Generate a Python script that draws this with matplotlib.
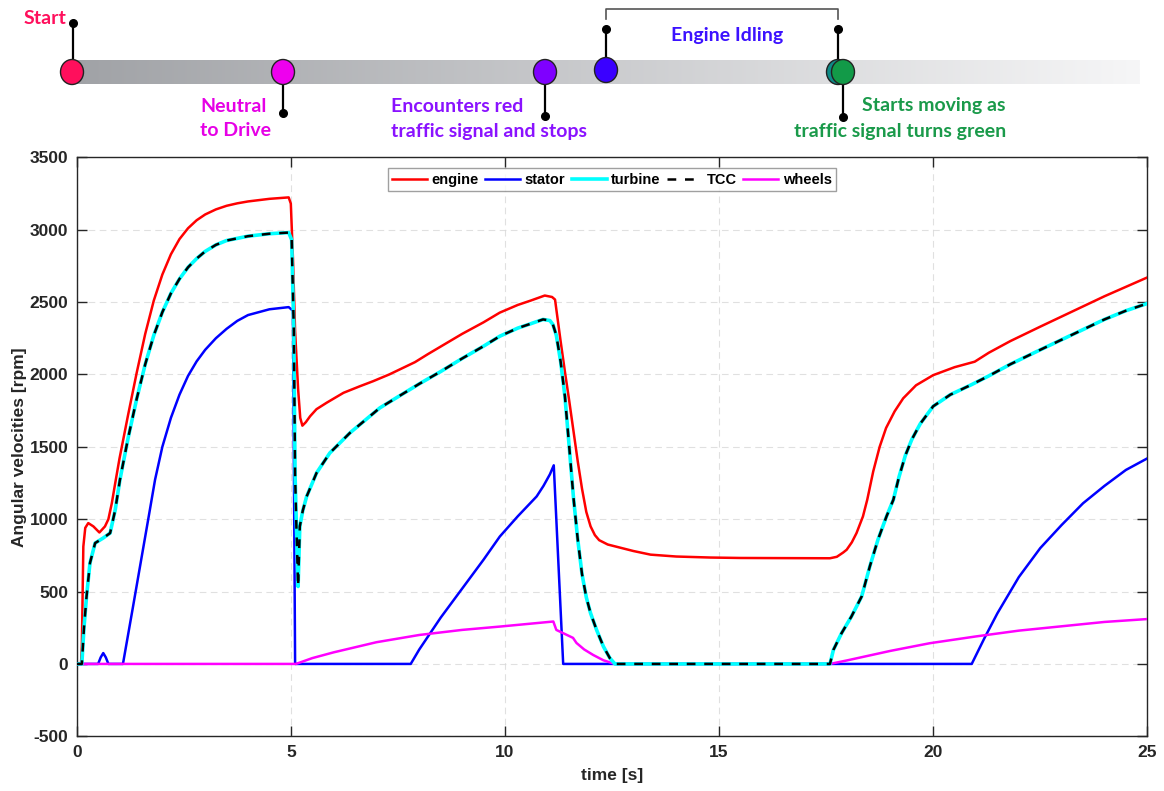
import numpy as np
import matplotlib
matplotlib.use("Agg")
import matplotlib.pyplot as plt
from matplotlib.patches import Ellipse

plt.rcParams["axes.unicode_minus"] = False

# ---------------- data ----------------
engine_t = [0, 0.1, 0.12, 0.155, 0.2, 0.27, 0.39, 0.53, 0.66, 0.74, 0.82, 0.9, 1.0, 1.2, 1.4, 1.6, 1.8, 2.0,
            2.2, 2.4, 2.6, 2.8, 3.0, 3.25, 3.5, 3.75, 4.0, 4.5, 4.95, 5.0, 5.05, 5.1, 5.17, 5.22, 5.27, 5.35,
            5.45, 5.6, 5.84, 6.23, 6.61, 6.92, 7.3, 7.9, 8.2, 8.6, 9.0, 9.5, 9.88, 10.3, 10.6, 10.93, 11.1,
            11.17, 11.2, 11.3, 11.4, 11.5, 11.6, 11.7, 11.8, 11.9, 12.0, 12.1, 12.2, 12.4, 12.6, 13.0, 13.4,
            14.0, 14.8, 15.5, 16.5, 17.59, 17.75, 17.9, 17.98, 18.1, 18.21, 18.36, 18.46, 18.6, 18.75,
            18.9, 19.1, 19.3, 19.6, 20.0, 20.5, 20.97, 21.3, 21.8, 22.5, 23.0, 23.5, 24.0, 24.5, 25.0]
engine_v = [0, 0, 120, 811, 940, 973, 950, 908, 950, 1000, 1110, 1250, 1420, 1720, 2010, 2280, 2510, 2690,
            2830, 2935, 3010, 3065, 3105, 3140, 3165, 3182, 3195, 3213, 3223, 3180, 2800, 2300, 1900, 1700,
            1646, 1670, 1711, 1760, 1805, 1873, 1918, 1953, 2000, 2085, 2140, 2210, 2280, 2360, 2427, 2480,
            2510, 2545, 2535, 2517, 2450, 2230, 2020, 1820, 1610, 1400, 1210, 1050, 950, 890, 855, 825, 810,
            780, 755, 742, 735, 732, 731, 730, 740, 770, 789, 840, 904, 1019, 1134, 1330, 1500, 1630,
            1745, 1835, 1925, 1995, 2050, 2088, 2150, 2230, 2330, 2400, 2470, 2540, 2605, 2670]

turbine_t = [0, 0.12, 0.17, 0.23, 0.31, 0.43, 0.62, 0.78, 0.9, 1.01, 1.2, 1.4, 1.6, 1.8, 2.0, 2.2, 2.4, 2.6,
             2.8, 3.0, 3.25, 3.5, 4.0, 4.5, 4.95, 5.02, 5.07, 5.1, 5.13, 5.17, 5.21, 5.28, 5.37, 5.6, 5.91,
             6.38, 7.08, 7.5, 8.0, 8.5, 9.0, 9.5, 9.88, 10.3, 10.6, 10.89, 11.05, 11.12, 11.2, 11.3, 11.4,
             11.5, 11.6, 11.7, 11.8, 11.9, 12.0, 12.14, 12.3, 12.45, 12.57, 17.59, 17.67, 17.86, 18.09,
             18.33, 18.52, 18.71, 18.91, 19.07, 19.2, 19.35, 19.5, 19.7, 20.0, 20.4, 20.9, 21.3, 21.8, 22.5,
             23.0, 23.5, 24.0, 24.5, 25.0]
turbine_v = [0, 0, 250, 466, 697, 835, 870, 904, 1065, 1273, 1560, 1830, 2070, 2270, 2430, 2560, 2660, 2740,
             2800, 2850, 2895, 2925, 2955, 2972, 2980, 2930, 2300, 1300, 950, 535, 950, 1060, 1157, 1319,
             1457, 1596, 1769, 1845, 1935, 2020, 2110, 2195, 2264, 2320, 2350, 2380, 2372, 2345, 2270, 2090,
             1850, 1503, 1150, 860, 620, 460, 350, 235, 120, 40, 0, 0, 97, 212, 327, 466, 673, 858, 1019,
             1134, 1290, 1440, 1550, 1660, 1780, 1860, 1930, 1990, 2070, 2170, 2240, 2310, 2380, 2440, 2490]

stator_t = [0, 0.5, 0.56, 0.62, 0.68, 0.74, 1.08, 1.3, 1.5, 1.7, 1.83, 2.0, 2.2, 2.4, 2.6, 2.8, 3.0, 3.25,
            3.5, 3.75, 4.0, 4.5, 4.95, 5.05, 5.1, 7.8, 8.0, 8.5, 9.0, 9.5, 9.88, 10.3, 10.74, 10.9, 11.05,
            11.14, 11.36, 20.9, 21.2, 21.5, 22.0, 22.5, 23.0, 23.5, 24.0, 24.5, 25.0]
stator_v = [0, 0, 45, 75, 45, 0, 0, 370, 710, 1050, 1273, 1500, 1700, 1860, 1990, 2090, 2170, 2250,
            2315, 2370, 2410, 2450, 2465, 2440, 0, 0, 100, 320, 520, 720, 880, 1020, 1157, 1230, 1310,
            1372, 0, 0, 180, 350, 600, 800, 960, 1110, 1230, 1340, 1420]

wheels_t = [0, 5.12, 5.5, 6, 7, 8, 9, 9.88, 11.13, 11.2, 11.59, 11.67, 11.85, 12.06, 12.3, 12.57, 17.59,
            18, 19, 19.92, 21, 22, 23, 24, 25]
wheels_v = [0, 0, 40, 80, 150, 200, 235, 258, 293, 235, 180, 145, 100, 62, 25, 0, 0,
            25, 90, 143, 190, 230, 260, 290, 310]

series_names = ["engine", "stator", "turbine", "TCC", "wheels"]
x_ticks = [0, 5, 10, 15, 20, 25]
y_ticks = [-500, 0, 500, 1000, 1500, 2000, 2500, 3000, 3500]

event_labels = ["Start", ["Neutral", "to Drive"], ["Encounters red", "traffic signal and stops"],
                "Engine Idling", ["Starts moving as", "traffic signal turns green"]]

# ---------------- figure ----------------
W, H = 1164, 791
fig = plt.figure(figsize=(W / 100, H / 100), dpi=100)

# timeline overlay (pixel coordinates)
tl = fig.add_axes([0, 0, 1, 1])
tl.set_xlim(0, W)
tl.set_ylim(H, 0)
tl.axis("off")

grad = np.linspace(0, 1, 512)
c0 = np.array([160, 162, 166]) / 255
c1 = np.array([246, 246, 247]) / 255
img = (c0[None, :] * (1 - grad[:, None]) + c1[None, :] * grad[:, None])[None, :, :]
tl.imshow(img, extent=[72, 1140, 84, 60], aspect="auto", zorder=1)

fkw = dict(family=["Lato", "DejaVu Sans"], fontweight="bold", fontsize=14)

def pin(x, y_circle, y_end):
    tl.plot([x, x], [y_circle, y_end], color="black", lw=1.6, zorder=2)
    tl.plot([x], [y_end], "o", color="black", ms=5.5, zorder=3)

def dot(x, y, color):
    tl.add_patch(Ellipse((x, y), 23, 25, facecolor=color, edgecolor="#222222", lw=1.0, zorder=4))

def two_lines(x, lines, color, ha):
    tl.text(x, 106, lines[0], color=color, ha=ha, va="center", **fkw)
    tl.text(x, 131, lines[1], color=color, ha=ha, va="center", **fkw)

c_start, c_neutral, c_enc, c_idle, c_teal, c_green = "#FF0F5C", "#EE00EE", "#7F00FF", "#3A00FF", "#0E8A86", "#129A48"

pin(73, 72, 23)
dot(72, 72, c_start)
tl.text(66, 18, event_labels[0], color=c_start, ha="right", va="center", **fkw)

pin(283, 72, 113)
dot(283, 72, c_neutral)
two_lines(200, event_labels[1], "#E600E6", "left")

pin(545, 72, 116)
dot(545, 72, c_enc)
two_lines(391, event_labels[2], "#8A12FF", "left")

pin(606, 70, 29)
dot(606, 70, c_idle)
tl.text(727, 36, event_labels[3], color="#3C12FF", ha="center", va="center", **fkw)

pin(838, 72, 29)
pin(843, 72, 117)
dot(838, 72, c_teal)
dot(843, 72, c_green)
tl.plot([606, 606, 838, 838], [19, 9, 9, 19], color="#555555", lw=1.2, zorder=2)
two_lines(1006, event_labels[4], "#1A9A4A", "right")

# main axes
ax = fig.add_axes([76.7 / W, 1 - 736.3 / H, (1147.3 - 76.7) / W, (736.3 - 157.3) / H])
ax.plot(engine_t, engine_v, color="#FF0000", lw=1.8, label=series_names[0], zorder=3)
ax.plot(stator_t, stator_v, color="#0000FF", lw=1.8, label=series_names[1], zorder=3)
ax.plot(turbine_t, turbine_v, color="#00FFFF", lw=2.6, label=series_names[2], zorder=4)
ax.plot(turbine_t, turbine_v, color="black", lw=1.8, ls=(0, (3.5, 3.5)), label=series_names[3], zorder=5)
ax.plot(wheels_t, wheels_v, color="#FF00FF", lw=1.8, label=series_names[4], zorder=3)

ax.set_xlim(0, 25)
ax.set_ylim(-500, 3500)
ax.set_xticks(x_ticks)
ax.set_yticks(y_ticks)
ax.grid(True, color="#d9d9d9", ls=(0, (6, 4)), lw=0.8, alpha=0.8)
ax.set_axisbelow(True)
ax.tick_params(direction="in", length=7.5, width=1.0, top=True, right=True, colors="#262626",
               labelsize=12.5, pad=6)
for lab in ax.get_xticklabels() + ax.get_yticklabels():
    lab.set_fontfamily("Liberation Sans")
    lab.set_fontweight("bold")
for s in ax.spines.values():
    s.set_color("#262626")
    s.set_linewidth(1.0)
ax.set_xlabel("time [s]", fontsize=12.5, fontweight="bold", family="Liberation Sans", color="#262626", labelpad=6)
ax.set_ylabel("Angular velocities [rpm]", fontsize=12.5, fontweight="bold", family="Liberation Sans",
              color="#262626", labelpad=2)

leg = ax.legend(loc="upper center", ncol=5, frameon=True, fancybox=False, edgecolor="#888888",
                prop=dict(family="Liberation Sans", weight="bold", size=10.5), handlelength=2.4,
                columnspacing=0.45, handletextpad=0.3, borderpad=0.3, borderaxespad=0.75)
leg.get_frame().set_linewidth(1.0)

fig.savefig("out.png", dpi=100)
